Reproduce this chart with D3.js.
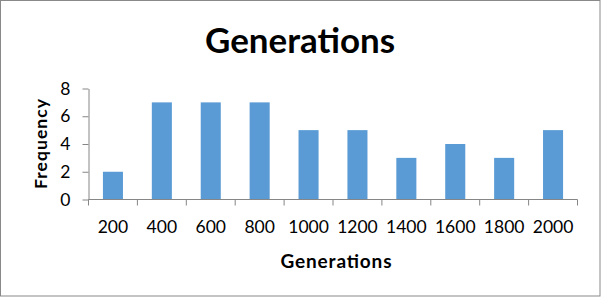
<!DOCTYPE html>
<html>
<head>
<meta charset="utf-8">
<script src="https://cdnjs.cloudflare.com/ajax/libs/d3/7.8.5/d3.min.js"></script>
<style>
  body { margin: 0; background: #fff; }
  svg { display: block; font-family: Lato, "Open Sans", sans-serif; }
</style>
</head>
<body>
<div id="chart"></div>
<script>
var categories = ["200", "400", "600", "800", "1000", "1200", "1400", "1600", "1800", "2000"];
var frequency = [2, 7, 7, 7, 5, 5, 3, 4, 3, 5];
var yTicks = [0, 2, 4, 6, 8];

var width = 601,
    height = 297;

var plot = { left: 88.5, right: 577.5, top: 88.5, bottom: 199.5 };

var svg = d3.select("#chart")
    .append("svg")
    .attr("width", width)
    .attr("height", height);

svg.append("rect")
    .attr("x", 0.5)
    .attr("y", 0.5)
    .attr("width", width - 1.5)
    .attr("height", height - 1.5)
    .attr("fill", "#fff")
    .attr("stroke", "#898989")
    .attr("stroke-width", 1);

var x = d3.scaleBand()
    .domain(categories)
    .range([plot.left, plot.right])
    .paddingInner(0.59)
    .paddingOuter(0.295);

var y = d3.scaleLinear()
    .domain([0, 8])
    .range([plot.bottom, plot.top]);

// bars
svg.selectAll(".bar")
    .data(frequency)
    .enter().append("rect")
    .attr("class", "bar")
    .attr("x", function (d, i) { return x(categories[i]); })
    .attr("width", x.bandwidth())
    .attr("y", function (d) { return y(d); })
    .attr("height", function (d) { return y(0) - y(d); })
    .attr("fill", "#5b9bd5");

// y axis
var yAxis = svg.append("g")
    .attr("transform", "translate(" + plot.left + ",0)")
    .call(d3.axisLeft(y).tickValues(yTicks).tickSize(6).tickPadding(12).tickSizeOuter(0));
yAxis.select(".domain").attr("stroke", "#868686");
yAxis.selectAll(".tick line").attr("stroke", "#868686");
yAxis.selectAll(".tick text")
    .attr("font-family", "Lato, sans-serif")
    .attr("font-size", 17.5)
    .attr("fill", "#000");

// x axis: labels under bars, ticks between categories
var step = x.step();
var xAxis = svg.append("g")
    .attr("transform", "translate(0," + plot.bottom + ")");
xAxis.append("line")
    .attr("x1", plot.left)
    .attr("x2", plot.right)
    .attr("stroke", "#868686");
var bounds = categories.map(function (c) { return x(c) - x.paddingInner() * step / 2; });
bounds.push(plot.right);
xAxis.selectAll(".xtick")
    .data(bounds)
    .enter().append("line")
    .attr("class", "xtick")
    .attr("x1", function (d) { return d; })
    .attr("x2", function (d) { return d; })
    .attr("y1", 0)
    .attr("y2", 6)
    .attr("stroke", "#868686");
xAxis.selectAll(".xlabel")
    .data(categories)
    .enter().append("text")
    .attr("class", "xlabel")
    .attr("x", function (d) { return x(d) + x.bandwidth() / 2; })
    .attr("y", 33.5)
    .attr("text-anchor", "middle")
    .attr("font-size", 17.5)
    .attr("fill", "#000")
    .text(function (d) { return d; });

// titles
svg.append("text")
    .attr("x", 300)
    .attr("y", 53)
    .attr("text-anchor", "middle")
    .attr("font-weight", "bold")
    .attr("font-size", 35)
    .attr("textLength", 190)
    .attr("lengthAdjust", "spacingAndGlyphs")
    .attr("fill", "#000")
    .text("Generations");

svg.append("text")
    .attr("x", 336)
    .attr("y", 268)
    .attr("text-anchor", "middle")
    .attr("font-weight", "bold")
    .attr("font-size", 19)
    .attr("textLength", 111)
    .attr("lengthAdjust", "spacing")
    .attr("fill", "#000")
    .text("Generations");

svg.append("text")
    .attr("transform", "translate(47," + (plot.top + plot.bottom) / 2 + ") rotate(-90)")
    .attr("text-anchor", "middle")
    .attr("font-weight", "bold")
    .attr("font-size", 17.5)
    .attr("textLength", 90)
    .attr("lengthAdjust", "spacing")
    .attr("fill", "#000")
    .text("Frequency");
</script>
</body>
</html>
